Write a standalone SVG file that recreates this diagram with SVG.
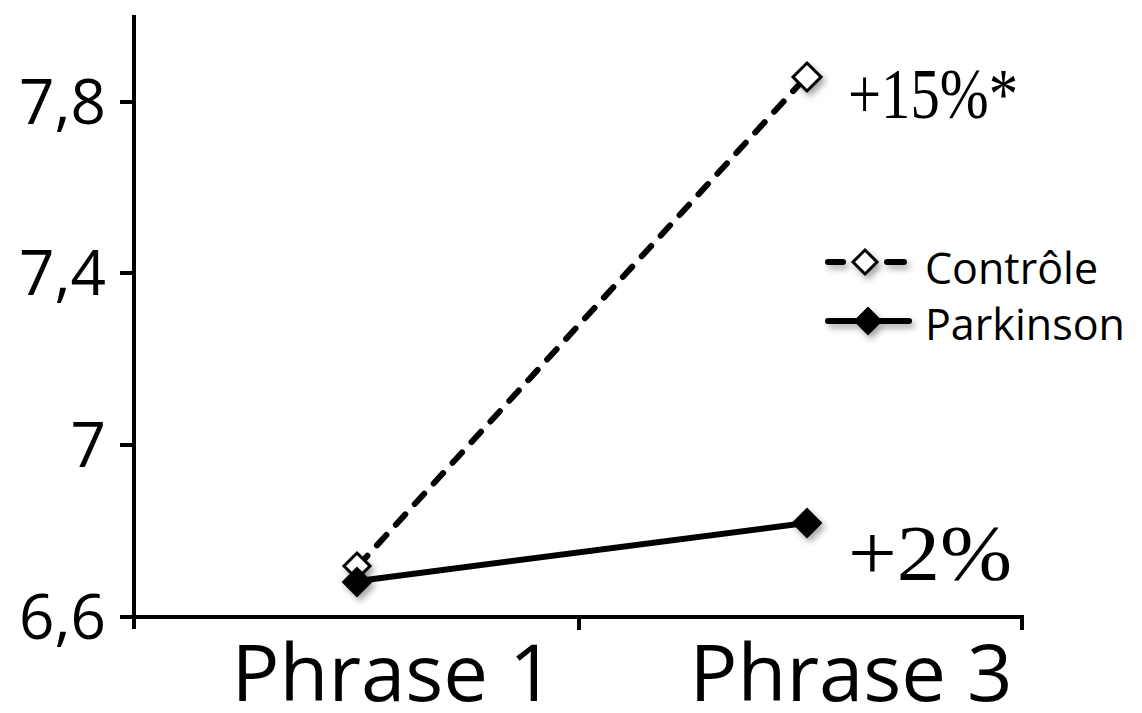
<svg xmlns="http://www.w3.org/2000/svg" width="1142" height="713" viewBox="0 0 1142 713">
  <defs>
    <filter id="sh" x="-50%" y="-50%" width="200%" height="200%">
      <feDropShadow dx="3" dy="4" stdDeviation="3" flood-color="#000" flood-opacity="0.35"/>
    </filter>
    <style>
      .ax { stroke:#000; stroke-width:4; fill:none; }
      .ln { stroke:#000; stroke-width:6; fill:none; stroke-linecap:round; }
      .dash { stroke-dasharray:14 14; }
      .ytl { font-family:"Open Sans","Liberation Sans",sans-serif; font-size:62px; fill:#000; text-anchor:end; }
      .xtl { font-family:"Open Sans","Liberation Sans",sans-serif; font-size:78px; fill:#000; text-anchor:middle; }
      .leg { font-family:"Open Sans","Liberation Sans",sans-serif; font-size:43px; fill:#000; }
      .pct { font-family:"Liberation Serif","DejaVu Serif",serif; fill:#000; }
      .open { fill:#fff; stroke:#000; stroke-width:3; }
      .full { fill:#000; stroke:#000; stroke-width:2; }
    </style>
  </defs>
  <rect width="1142" height="713" fill="#fff"/>
  <g id="axes">
    <line class="ax" x1="134" y1="15" x2="134" y2="629"/>
    <line class="ax" x1="120" y1="617" x2="1024" y2="617"/>
    <line class="ax" x1="120" y1="102" x2="134" y2="102"/>
    <line class="ax" x1="120" y1="273" x2="134" y2="273"/>
    <line class="ax" x1="120" y1="445" x2="134" y2="445"/>
    <line class="ax" x1="579" y1="617" x2="579" y2="630"/>
    <line class="ax" x1="1022" y1="617" x2="1022" y2="630"/>
    <text class="ytl" x="106" y="124">7,8</text>
    <text class="ytl" x="106" y="295">7,4</text>
    <text class="ytl" x="106" y="467">7</text>
    <text class="ytl" x="106" y="639">6,6</text>
    <text class="xtl" x="393" y="701" textLength="323" lengthAdjust="spacingAndGlyphs">Phrase 1</text>
    <text class="xtl" x="851" y="701" textLength="323" lengthAdjust="spacingAndGlyphs">Phrase 3</text>
  </g>
  <g id="connectors">
    <line class="ln dash" x1="358" y1="566" x2="806" y2="77"/>
    <line class="ln" x1="358" y1="581" x2="806" y2="523"/>
  </g>
  <g id="controle" filter="url(#sh)">
    <polygon class="open" points="357,553 370,566 357,579 344,566"/>
    <polygon class="open" points="807,63 821,77 807,91 793,77"/>
  </g>
  <g id="parkinson" filter="url(#sh)">
    <polygon class="full" points="357,568 371,582 357,596 343,582"/>
    <polygon class="full" points="807,509 821,523 807,537 793,523"/>
  </g>
  <g id="labels">
    <text class="pct" x="848" y="118" font-size="72" textLength="170" lengthAdjust="spacingAndGlyphs">+15%*</text>
    <text class="pct" x="848" y="579" font-size="78" textLength="164" lengthAdjust="spacingAndGlyphs">+2%</text>
  </g>
  <g id="legend">
    <g filter="url(#sh)">
      <line class="ln" x1="828" y1="262" x2="843" y2="262"/>
      <line class="ln" x1="887" y1="262" x2="904" y2="262"/>
      <polygon class="open" points="865,250 877,262 865,274 853,262"/>
      <line class="ln" x1="828" y1="321" x2="909" y2="321"/>
      <polygon class="full" points="868,308 881,321 868,334 855,321"/>
    </g>
    <text class="leg" x="925" y="284">Contrôle</text>
    <text class="leg" x="925" y="340">Parkinson</text>
  </g>
</svg>
